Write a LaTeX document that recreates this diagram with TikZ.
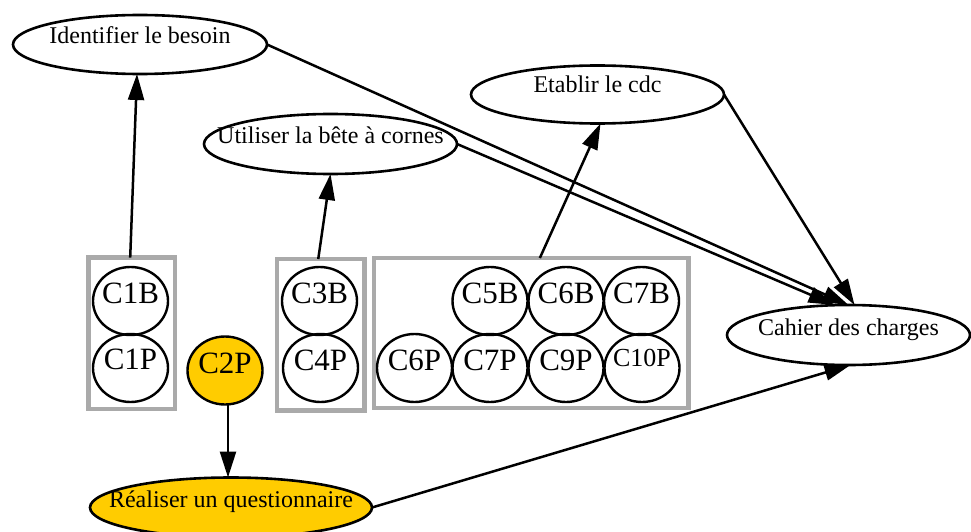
\documentclass[tikz,border=0pt]{standalone}
\usepackage{fontspec}
\setmainfont{Liberation Serif}
\usetikzlibrary{arrows.meta,shapes.geometric}
\definecolor{clgray}{RGB}{170,170,170}
\definecolor{gvgold}{RGB}{255,204,0}
\begin{document}
\begin{tikzpicture}[x=1pt,y=-1pt,
  ell/.style={ellipse, draw, line width=2.6pt, inner sep=0pt, outer sep=0pt},
  circ/.style={ellipse, draw, line width=2.4pt, inner sep=0pt, outer sep=0pt, minimum width=75pt, minimum height=68pt},
  clus/.style={rectangle, draw=clgray, line width=4.5pt, inner sep=0pt, outer sep=0pt},
  biglbl/.style={font=\fontsize{24}{28}\selectfont, anchor=base, inner sep=0pt},
  clbl/.style={font=\fontsize{31}{34}\selectfont, anchor=base, inner sep=0pt},
  conn/.style={line width=2.5pt, -{Triangle[length=26pt,width=16pt]}}
]
\useasboundingbox (0,0) rectangle (971,532);

% clusters
\node[clus, minimum width=86.7pt, minimum height=151.5pt] (cl1) at (131.7,333.3) {};
\node[clus, minimum width=87.5pt, minimum height=151.5pt] (cl2) at (320.75,334.75) {};
\node[clus, minimum width=314.7pt, minimum height=150pt] (cl3) at (531.35,333) {};

% ellipses
\node[ell, minimum width=254pt, minimum height=59pt] (ident) at (140,44.5) {};
\node[biglbl] (tident) at (140,44) {Identifier le besoin};
\node[ell, minimum width=253pt, minimum height=58pt] (etab) at (597.5,94.5) {};
\node[biglbl] (tetab) at (597.5,93) {Etablir le cdc};
\node[ell, minimum width=253pt, minimum height=60pt] (util) at (330.5,144) {};
\node[biglbl] (tutil) at (330.5,143) {Utiliser la bête à cornes};
\node[ell, minimum width=243pt, minimum height=60pt] (cahier) at (848.5,335) {};
\node[biglbl] (tcahier) at (848.5,335) {Cahier des charges};
\node[ell, fill=gvgold, minimum width=282pt, minimum height=60pt] (real) at (231,507.5) {};
\node[biglbl] (treal) at (231,507.5) {Réaliser un questionnaire};

% circles
\node[circ] (c1b) at (130.5,301) {};
\node[clbl] (tc1b) at (130.5,303) {C1B};
\node[circ] (c1p) at (130.5,368) {};
\node[clbl] (tc1p) at (130.5,369.5) {C1P};
\node[circ, fill=gvgold] (c2p) at (225,370.5) {};
\node[clbl] (tc2p) at (225,373) {C2P};
\node[circ] (c3b) at (319.5,301) {};
\node[clbl] (tc3b) at (319.5,303) {C3B};
\node[circ] (c4p) at (320.5,368) {};
\node[clbl] (tc4p) at (320.5,370) {C4P};
\node[circ] (c5b) at (490,301) {};
\node[clbl] (tc5b) at (490,303) {C5B};
\node[circ] (c6b) at (566,301) {};
\node[clbl] (tc6b) at (566,303) {C6B};
\node[circ] (c7b) at (641.5,301) {};
\node[clbl] (tc7b) at (641.5,303) {C7B};
\node[circ] (c6p) at (414.5,368) {};
\node[clbl] (tc6p) at (414.5,370.5) {C6P};
\node[circ] (c7p) at (490,368) {};
\node[clbl] (tc7p) at (490,370.5) {C7P};
\node[circ] (c9p) at (566,368) {};
\node[clbl] (tc9p) at (566,370.5) {C9P};
\node[circ] (c10p) at (642,368) {};
\node[anchor=base, inner sep=0pt, font=\fontsize{26}{30}\selectfont] (tc10p) at (642,366.5) {C10P};

% connectors
\draw[conn] ([xshift=-1.5pt]cl1.north) -- ([xshift=-3pt]ident.south);
\draw[conn] ([xshift=-2.5pt]cl2.north) -- (util.south);
\draw[conn] ([xshift=8.5pt]cl3.north) -- ([xshift=3pt]etab.south);
\draw[conn] (ident.east) -- (cahier.north);
\draw[conn] (util.east) -- ([xshift=-14pt]cahier.north);
\draw[conn] (etab.east) -- ([xshift=6pt]cahier.north);
\draw[conn] ([xshift=3pt]c2p.south) -- ([xshift=-3pt]real.north);
\draw[conn] (real.east) -- ([xshift=2pt]cahier.south);
\end{tikzpicture}
\end{document}
